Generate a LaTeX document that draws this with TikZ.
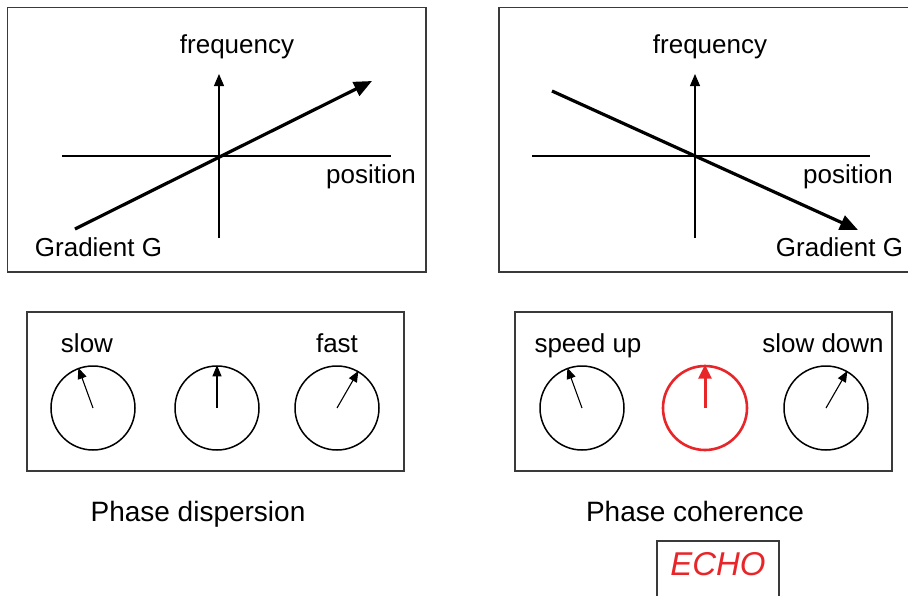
\documentclass[tikz,border=0pt]{standalone}
\usepackage{fontspec}
\setmainfont{Liberation Sans}
\usetikzlibrary{arrows.meta}
\definecolor{echored}{HTML}{E8262A}
\definecolor{frame}{HTML}{3A3A3A}
\begin{document}
\begin{tikzpicture}[x=1pt,y=-1pt,
  panel/.style={draw=frame, line width=1.5pt},
  axisline/.style={line width=1.1pt},
  axisarrow/.style={line width=1.1pt, -{Triangle[length=12pt,width=10pt]}},
  gradarrow/.style={line width=3.2pt, -{Triangle[length=18pt,width=15pt]}},
  label/.style={font=\fontsize{26}{30}\selectfont, anchor=base, inner sep=0pt},
  caption/.style={font=\fontsize{28}{32}\selectfont, anchor=base, inner sep=0pt},
  dial/.style={circle, draw, line width=1.5pt, minimum size=84pt, inner sep=0pt},
  hand/.style={line width=1.1pt, -{Triangle[length=11pt,width=9pt]}},
  reddial/.style={dial, draw=echored, line width=2.6pt},
  redhand/.style={draw=echored, line width=3pt, -{Triangle[length=14pt,width=13pt]}},
]
\useasboundingbox (0,0) rectangle (908,595);
\fill[white] (0,0) rectangle (908,595);

% ---- frequency/position panel, positive gradient ----
\draw[panel] (7.5,7.5) rectangle (426,272);
\coordinate (lxl) at (62,156);
\coordinate (lxr) at (391,156);
\coordinate (lyb) at (219,238);
\coordinate (lyt) at (219,74);
\coordinate (lg0) at (75,229);
\coordinate (lg1) at (372,81);
\draw[axisline] (lxl) -- (lxr);
\draw[axisarrow] (lyb) -- (lyt);
\draw[gradarrow] (lg0) -- (lg1);
\node[label] (lfreq) at (237,53) {frequency};
\node[label] (lpos) at (371,183) {position};
\node[label] (lgrad) at (98.5,256) {Gradient G};

% ---- frequency/position panel, reversed gradient ----
\draw[panel] (499,7.5) rectangle (915,272);
\coordinate (rxl) at (532,156);
\coordinate (rxr) at (870,156);
\coordinate (ryb) at (695,238);
\coordinate (ryt) at (695,74);
\coordinate (rg0) at (552,91);
\coordinate (rg1) at (858,230);
\draw[axisline] (rxl) -- (rxr);
\draw[axisarrow] (ryb) -- (ryt);
\draw[gradarrow] (rg0) -- (rg1);
\node[label] (rfreq) at (710,53) {frequency};
\node[label] (rpos) at (848,183) {position};
\node[label] (rgrad) at (839.5,256) {Gradient G};

% ---- dephasing spins ----
\draw[panel] (27,312) rectangle (404,471);
\node[dial] (d1) at (93,408) {};
\node[dial] (d2) at (217,408) {};
\node[dial] (d3) at (337,408) {};
\draw[hand] (d1.center) -- (d1.110);
\draw[hand] (d2.center) -- (d2.90);
\draw[hand] (d3.center) -- (d3.60);
\node[label] (tslow) at (87,352) {slow};
\node[label] (tfast) at (337,352) {fast};
\node[caption] (cdisp) at (198,521) {Phase dispersion};

% ---- rephasing spins ----
\draw[panel] (515,312) rectangle (892,471);
\node[dial] (e1) at (582,408) {};
\node[reddial] (e2) at (705,408) {};
\node[dial] (e3) at (826,408) {};
\draw[hand] (e1.center) -- (e1.110);
\draw[redhand] (e2.center) -- (e2.90);
\draw[hand] (e3.center) -- (e3.60);
\node[label] (tup) at (588,352) {speed up};
\node[label] (tdown) at (823,352) {slow down};
\node[caption] (ccoh) at (695,521) {Phase coherence};

% ---- echo ----
\draw[panel] (657,541) rectangle (779,600);
\node[font=\fontsize{33}{38}\selectfont\itshape, text=echored, anchor=base, inner sep=0pt] (echo) at (718,575) {ECHO};
\end{tikzpicture}
\end{document}
